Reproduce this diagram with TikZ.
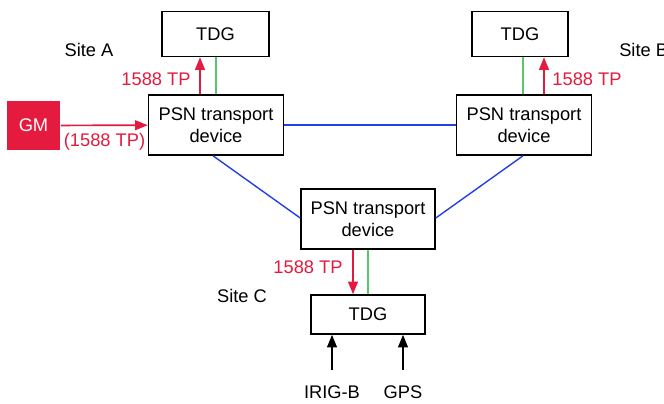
\documentclass[tikz,border=0pt]{standalone}
\usepackage{fontspec}
\setmainfont{Liberation Sans}
\usetikzlibrary{arrows.meta}

\definecolor{tpred}{RGB}{228,26,62}
\definecolor{netblue}{RGB}{35,65,225}
\definecolor{linkgreen}{RGB}{85,200,110}

\tikzset{
    box/.style = {draw, line width=1.1pt, fill=white, align=center, inner sep=0pt,
        font=\fontsize{13}{15.5}\selectfont},
    tdgbox/.style = {box, minimum height=1.125cm},
    psnbox/.style = {box, minimum width=3.375cm, minimum height=1.5cm},
    label/.style = {font=\fontsize{13}{15.5}\selectfont, inner sep=0pt},
    tplabel/.style = {label, text=tpred},
    tparrow/.style = {->, draw=tpred, line width=1.2pt},
    netline/.style = {draw=netblue, line width=1pt},
    greenline/.style = {draw=linkgreen, line width=1pt},
}

\begin{document}
\begin{tikzpicture}[
    x = 0.025cm, y = -0.025cm, % pixel grid
    > = {Triangle[length=9pt, width=7pt]}, % arrow head style
]
\useasboundingbox (0,0) rectangle (664,403);

% Nodes
\node[tdgbox, minimum width=2.675cm] (tdgA) at (215.5,34) {TDG};
\node[tdgbox, minimum width=2.4cm] (tdgB) at (520,34) {TDG};
\node[tdgbox, minimum width=2.85cm, minimum height=0.975cm] (tdgC) at (368,314.5) {TDG};
\node[psnbox] (psnA) at (216,125) {PSN transport\\device};
\node[psnbox] (psnB) at (524,125) {PSN transport\\device};
\node[psnbox, minimum width=3.35cm] (psnC) at (368,219) {PSN transport\\device};
\node[box, draw=none, fill=tpred, text=white, minimum width=1.325cm, minimum height=1.225cm] (gm) at (33.5,125.5) {GM};

% Labels
\node[label] (siteA) at (89,50) {Site A};
\node[label, anchor=west] (siteB) at (619,50) {Site B};
\node[label] (siteC) at (242,296) {Site C};
\node[tplabel] (tpA) at (156,79) {1588 TP};
\node[tplabel] (tpB) at (587,79) {1588 TP};
\node[tplabel] (tpC) at (308,267) {1588 TP};
\node[tplabel] (tpGM) at (104.5,142) {(1588 TP)};
\node[label] (irig) at (332,392) {IRIG-B};
\node[label] (gps) at (403,392) {GPS};
\coordinate (irigtop) at (332,370);
\coordinate (gpstop) at (403,370);

% Edges
\draw[netline] (psnA) -- (psnB);
\draw[netline] ([xshift=-0.075cm]psnA.south) -- ([yshift=0.025cm]psnC.west);
\draw[netline] ([yshift=0.025cm]psnC.east) -- ([xshift=-0.025cm]psnB.south);

\draw[greenline] (psnA.north) -- (psnA.north |- tdgA.south);
\draw[greenline] ([xshift=-0.025cm]psnB.north) -- ([xshift=-0.025cm]psnB.north |- tdgB.south);
\draw[greenline] (psnC.south) -- (tdgC.north);

\draw[tparrow] ([xshift=-0.4cm]psnA.north) -- ([xshift=-0.4cm]psnA.north |- tdgA.south);
\draw[tparrow] ([xshift=0.5cm]psnB.north) -- ([xshift=0.5cm]psnB.north |- tdgB.south);
\draw[tparrow] ([xshift=-0.375cm]psnC.south) -- ([xshift=-0.375cm]psnC.south |- tdgC.north);
\draw[tparrow] (gm) -- (psnA);

\draw[->, line width=1.2pt] (irigtop) -- (irigtop |- tdgC.south);
\draw[->, line width=1.2pt] (gpstop) -- (gpstop |- tdgC.south);

\end{tikzpicture}
\end{document}
